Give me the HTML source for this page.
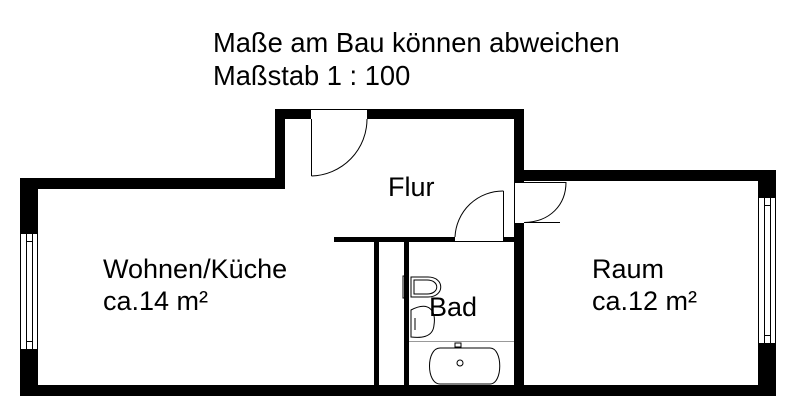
<!DOCTYPE html>
<html><head><meta charset="utf-8"><style>html,body{margin:0;padding:0;background:#fff}svg{display:block}</style></head>
<body>
<svg width="800" height="420" viewBox="0 0 800 420" xmlns="http://www.w3.org/2000/svg" font-family="Liberation Sans, sans-serif">
<rect width="800" height="420" fill="#fff"/>
<text x="213" y="52" font-size="27.3" fill="#000">Maße am Bau können abweichen</text>
<text x="213" y="85" font-size="27.3" fill="#000">Maßstab 1 : 100</text>
<g fill="#000">
<rect x="20" y="178" width="265" height="11"/>
<rect x="20" y="178" width="18" height="55"/>
<rect x="20" y="349" width="18" height="47"/>
<rect x="20" y="385" width="756" height="11"/>
<rect x="275" y="109" width="10" height="80"/>
<rect x="275" y="109" width="36" height="10"/>
<rect x="367" y="109" width="157" height="10"/>
<rect x="514" y="109" width="10" height="73"/>
<rect x="514" y="223" width="10" height="173"/>
<rect x="514" y="170" width="262" height="11"/>
<rect x="758" y="170" width="18" height="27"/>
<rect x="758" y="343" width="18" height="53"/>
<rect x="334" y="237" width="121" height="5"/>
<rect x="503" y="237" width="11" height="5"/>
<rect x="374" y="237" width="5" height="150"/>
<rect x="404" y="237" width="5" height="150"/>
</g>
<g fill="none" stroke="#000" stroke-width="1">
<rect x="20.5" y="233.5" width="17" height="116"/>
<line x1="26.5" y1="233" x2="26.5" y2="349"/><line x1="32.5" y1="233" x2="32.5" y2="349"/>
<line x1="26" y1="241.5" x2="33" y2="241.5"/><line x1="26" y1="341.5" x2="33" y2="341.5"/>
<rect x="758.5" y="197.5" width="17" height="146"/>
<line x1="764.5" y1="197" x2="764.5" y2="343"/><line x1="770.5" y1="197" x2="770.5" y2="343"/>
<line x1="764" y1="205.5" x2="771" y2="205.5"/><line x1="764" y1="335.5" x2="771" y2="335.5"/>
<line x1="311" y1="109.5" x2="367" y2="109.5"/>
<line x1="311.5" y1="119" x2="311.5" y2="176"/>
<path d="M311.5,176 A57,57 0 0 0 367,119"/>
<line x1="503.5" y1="191" x2="503.5" y2="241"/>
<line x1="455" y1="241.5" x2="503" y2="241.5"/>
<path d="M503.5,191 A48,48 0 0 0 455,237"/>
<line x1="514" y1="182.5" x2="524" y2="182.5"/>
<line x1="514.5" y1="182" x2="514.5" y2="223"/>
<line x1="524" y1="182.5" x2="566" y2="182.5"/>
<line x1="524" y1="222.5" x2="560" y2="222.5"/>
<path d="M566,182 C566,205 550,222 524,222.5"/>
<line x1="409" y1="341.5" x2="514" y2="341.5" stroke="#999"/>
<rect x="403" y="276" width="5" height="22"/>
<path d="M411,277 L428,277 C445,277 445,297 428,297 L411,297 Z"/>
<path d="M414,280 L427,280 C440,280 440,294 427,294 L414,294 Z"/>
<path d="M411,310 C430,300 436,312 434,325 C433,338 420,338 411,337 Z"/>
<line x1="415" y1="318" x2="415" y2="330"/>
<rect x="455" y="343" width="6" height="4"/>
<path d="M440,348 L490,348 C503,348 503,384 490,384 L440,384 C426,384 426,348 440,348 Z"/>
<circle cx="460" cy="363" r="3"/>
</g>
<g font-size="27" fill="#000">
<text x="388" y="196">Flur</text>
<text x="103" y="278">Wohnen/Küche</text>
<text x="103" y="310">ca.14 m²</text>
<text x="592" y="278">Raum</text>
<text x="592" y="310">ca.12 m²</text>
<text x="429" y="316">Bad</text>
</g>
</svg>
</body></html>
